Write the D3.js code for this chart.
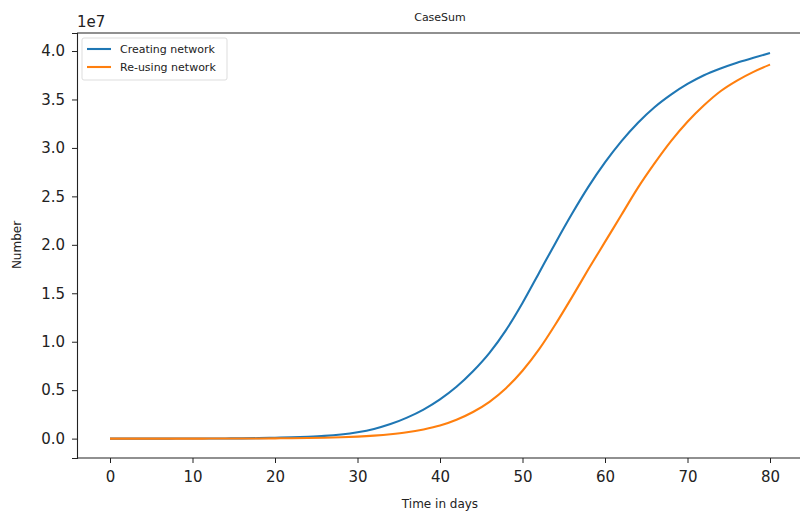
<!DOCTYPE html>
<html>
<head>
<meta charset="utf-8">
<script src="https://cdn.jsdelivr.net/npm/d3@7"></script>
<style>
  body { margin: 0; background: #fff; }
  svg { display: block; font-family: "DejaVu Sans", sans-serif; }
</style>
</head>
<body>
<script>
// days sampled every 2 days
const days = d3.range(0, 81, 2);

// values in units of 1e7
const creating = [0, 0, 0, 0, 0.0005, 0.0008, 0.001, 0.002, 0.003, 0.005, 0.009,
  0.013, 0.019, 0.028, 0.043, 0.066, 0.10, 0.15, 0.217, 0.30, 0.405,
  0.535, 0.695, 0.885, 1.12, 1.40, 1.71, 2.02, 2.32, 2.60, 2.85,
  3.07, 3.26, 3.42, 3.55, 3.66, 3.75, 3.82, 3.88, 3.93, 3.98];

const reusing = [0, 0, 0, 0, 0, 0, 0.0005, 0.0008, 0.001, 0.002, 0.003,
  0.004, 0.006, 0.009, 0.014, 0.021, 0.031, 0.045, 0.065, 0.095, 0.135,
  0.195, 0.275, 0.38, 0.52, 0.70, 0.92, 1.18, 1.46, 1.75, 2.03,
  2.31, 2.59, 2.84, 3.07, 3.27, 3.44, 3.585, 3.695, 3.785, 3.86];

const seriesNames = ["Creating network", "Re-using network"];
const colors = ["#1f77b4", "#ff7f0e"];
const xTicks = [0, 10, 20, 30, 40, 50, 60, 70, 80];
const yTicks = [0, 0.5, 1.0, 1.5, 2.0, 2.5, 3.0, 3.5, 4.0];

const width = 800, height = 511;
const margin = { left: 77, top: 33, right: -3, bottom: 53 };

const svg = d3.select("body").append("svg")
    .attr("width", width)
    .attr("height", height);

const x = d3.scaleLinear()
    .domain([-4, 84])
    .range([margin.left, width - margin.right]);

const y = d3.scaleLinear()
    .domain([-0.2, 4.186])
    .range([height - margin.bottom, margin.top]);

// lines
const line = d3.line()
    .x((d, i) => x(days[i]))
    .y(d => y(d))
    .curve(d3.curveMonotoneX);

[creating, reusing].forEach((vals, k) => {
  svg.append("path")
      .attr("d", line(vals))
      .attr("fill", "none")
      .attr("stroke", colors[k])
      .attr("stroke-width", 2.1);
});

// axes
const xAxis = svg.append("g")
    .attr("transform", `translate(0,${height - margin.bottom})`)
    .call(d3.axisBottom(x).tickValues(xTicks).tickSize(5).tickPadding(8).tickFormat(d3.format("d")));

const yAxis = svg.append("g")
    .attr("transform", `translate(${margin.left},0)`)
    .call(d3.axisLeft(y).tickValues(yTicks).tickSize(5).tickPadding(7).tickFormat(d3.format(".1f")));

[xAxis, yAxis].forEach(g => {
  g.select(".domain").attr("stroke", "#222").attr("stroke-width", 1.1);
  g.selectAll(".tick line").attr("stroke", "#222");
  g.selectAll(".tick text")
      .attr("fill", "#222")
      .style("font-size", "15px")
      .style("font-family", "DejaVu Sans, sans-serif");
});
xAxis.select(".domain").attr("d", `M${margin.left},0H${width}`);

// top spine
svg.append("line")
    .attr("x1", margin.left).attr("x2", width)
    .attr("y1", margin.top).attr("y2", margin.top)
    .attr("stroke", "#222").attr("stroke-width", 1.1);

// offset text
svg.append("text")
    .attr("x", margin.left).attr("y", 27)
    .attr("fill", "#222")
    .style("font-size", "15px")
    .text("1e7");

// title
svg.append("text")
    .attr("x", 440).attr("y", 21)
    .attr("text-anchor", "middle")
    .attr("fill", "#222")
    .style("font-size", "11px")
    .text("CaseSum");

// axis labels
svg.append("text")
    .attr("x", 440).attr("y", 508)
    .attr("text-anchor", "middle")
    .attr("fill", "#222")
    .style("font-size", "12px")
    .text("Time in days");

svg.append("text")
    .attr("transform", "translate(21,245) rotate(-90)")
    .attr("text-anchor", "middle")
    .attr("fill", "#222")
    .style("font-size", "12px")
    .text("Number");

// legend
const legend = svg.append("g").attr("transform", "translate(82,38)");
legend.append("rect")
    .attr("width", 145).attr("height", 42)
    .attr("rx", 2)
    .attr("fill", "#fff")
    .attr("stroke", "#ddd");

seriesNames.forEach((name, i) => {
  const row = legend.append("g").attr("transform", `translate(0,${11 + i * 18})`);
  row.append("line")
      .attr("x1", 5).attr("x2", 29)
      .attr("stroke", colors[i]).attr("stroke-width", 2.1);
  row.append("text")
      .attr("x", 38).attr("y", 4)
      .attr("fill", "#222")
      .style("font-size", "11px")
      .text(name);
});
</script>
</body>
</html>
